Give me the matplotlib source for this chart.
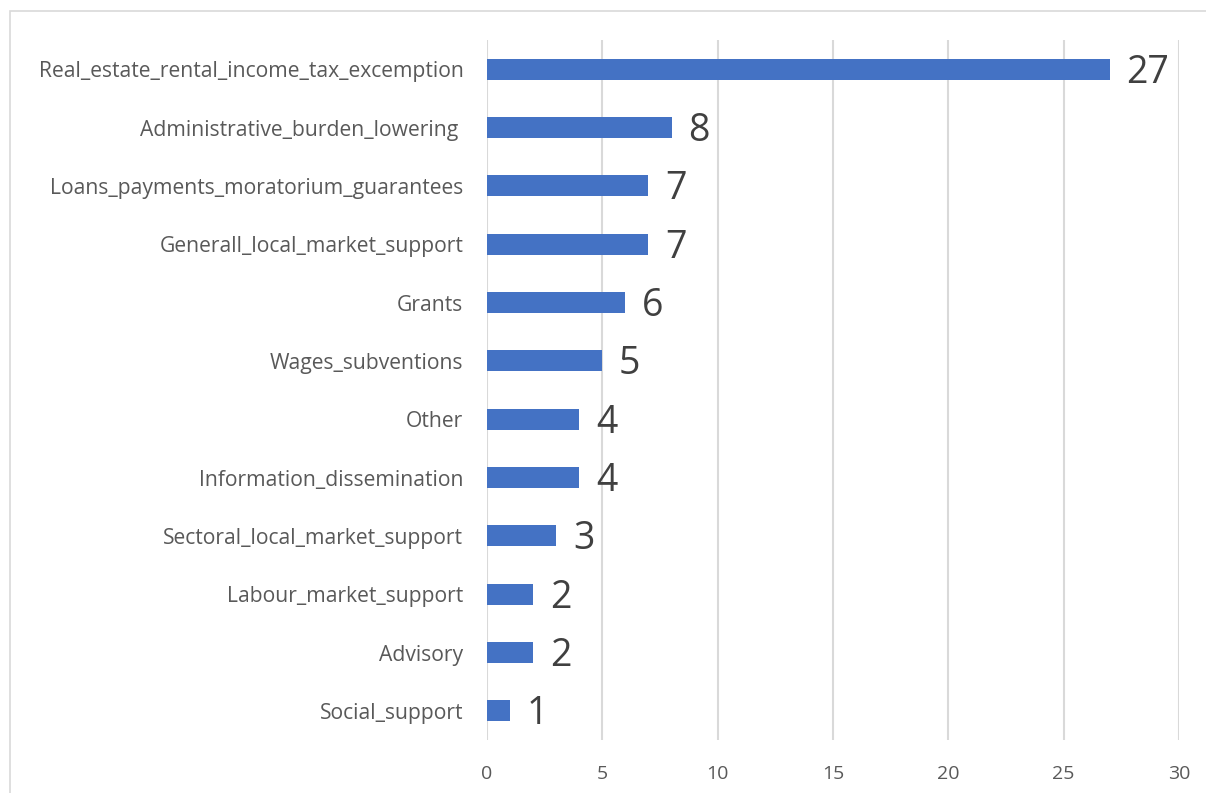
"""
Horizontal bar chart of support measure counts.
"""

import matplotlib.pyplot as plt
from matplotlib.patches import Rectangle

categories = [
    "Real_estate_rental_income_tax_excemption",
    "Administrative_burden_lowering ",
    "Loans_payments_moratorium_guarantees",
    "Generall_local_market_support",
    "Grants",
    "Wages_subventions",
    "Other",
    "Information_dissemination",
    "Sectoral_local_market_support",
    "Labour_market_support",
    "Advisory",
    "Social_support",
]
values = [27, 8, 7, 7, 6, 5, 4, 4, 3, 2, 2, 1]
xticks = [0, 5, 10, 15, 20, 25, 30]

BAR_COLOR = "#4472C4"
FONT = "Open Sans"

fig = plt.figure(figsize=(12.06, 7.93), dpi=100)
ax = fig.add_axes([487 / 1206, 53 / 793, 692 / 1206, 700 / 793])

# outer chart border like the spreadsheet frame
fig.patches.append(
    Rectangle(
        (10 / 1206, -0.01),
        1.02,
        (793 - 11) / 793 + 0.01,
        transform=fig.transFigure,
        fill=False,
        edgecolor="#D9D9D9",
        linewidth=1.2,
    )
)

pos = list(range(len(categories)))
ax.barh(pos, values, height=0.355, color=BAR_COLOR, zorder=3)

for y, v in zip(pos, values):
    ax.annotate(
        str(v),
        (v, y),
        xytext=(12, -2.5),
        textcoords="offset points",
        va="center",
        ha="left",
        fontsize=27,
        color="#404040",
        family=FONT,
    )

ax.set_xlim(0, 30)
ax.set_ylim(len(categories) - 0.5, -0.5)
ax.set_yticks(pos)
ax.set_yticklabels(categories, fontsize=15.2, color="#595959", family=FONT)
ax.set_xticks(xticks)
ax.set_xticklabels([str(t) for t in xticks], fontsize=14, color="#595959", family=FONT)
ax.tick_params(axis="both", length=0)
ax.tick_params(axis="x", pad=18)
ax.tick_params(axis="y", pad=17)

for spine in ax.spines.values():
    spine.set_visible(False)
ax.set_axisbelow(True)
ax.grid(True, axis="x", color="#D9D9D9", linewidth=1.5)

plt.savefig("out.png", dpi=100)
plt.close()
